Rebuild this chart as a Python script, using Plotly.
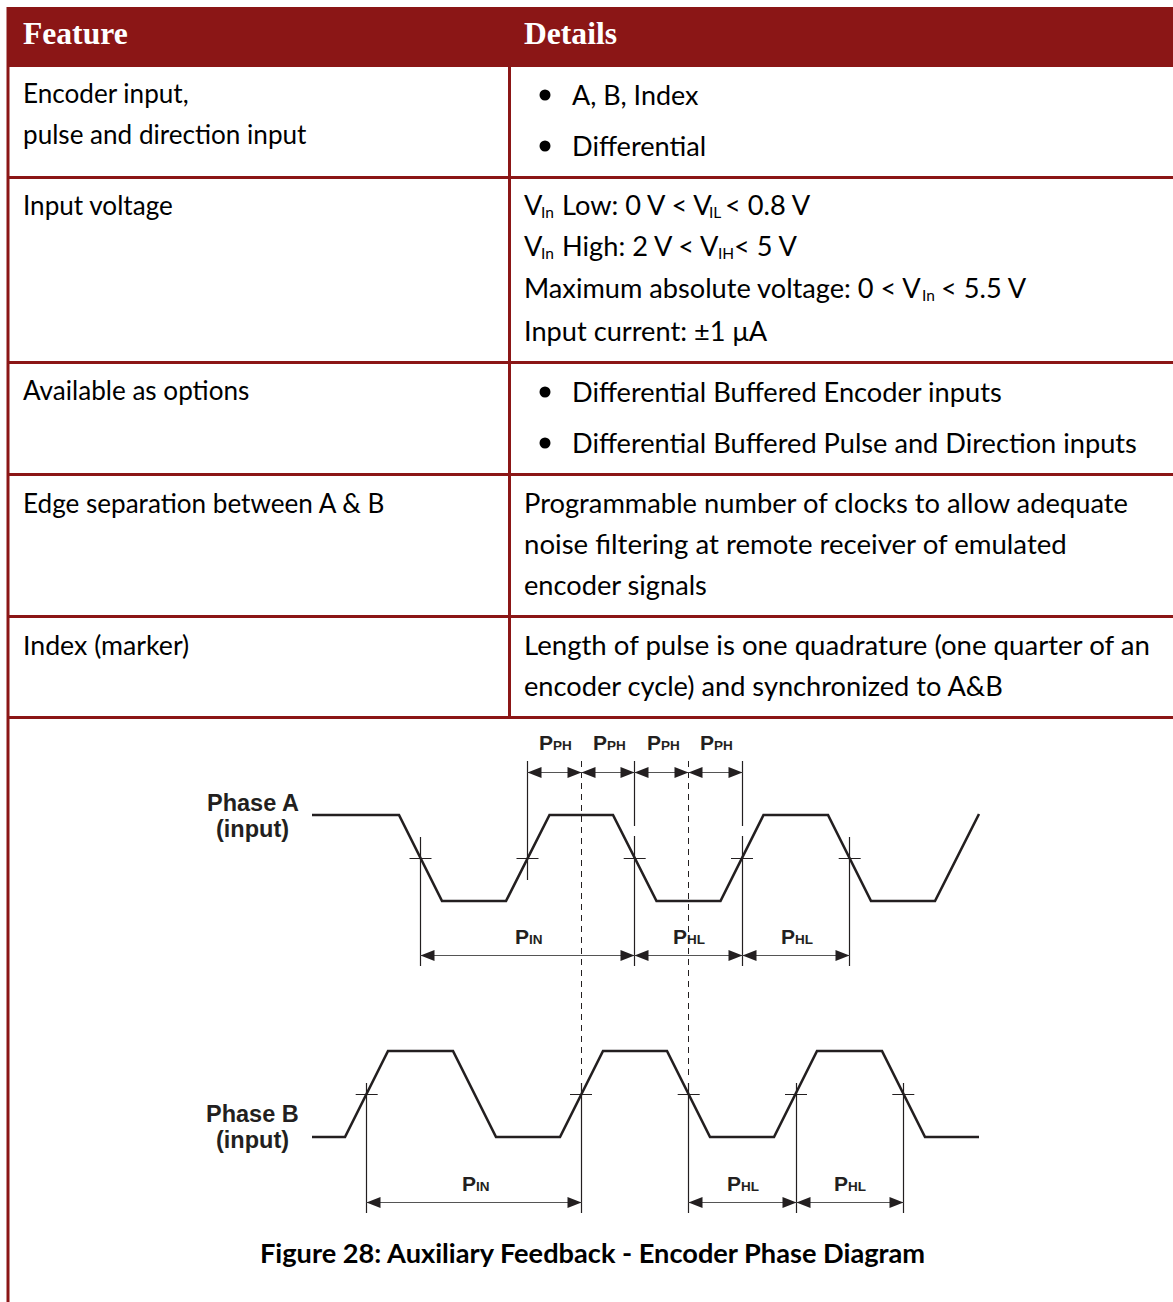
import plotly.graph_objects as go

# ---------- table content ----------
BRAND = "#8B1616"
INK = "#231F20"
header_labels = ["Feature", "Details"]
header_x = [23, 524]
rule_rows = [177.5, 362.5, 474.5, 616.5, 717.5]
table_left, table_right, table_top, header_bottom, page_bottom, column_split = 8, 1173, 7, 67, 1302, 509.5

feature_text = ["Encoder input,", "pulse and direction input", "Input voltage",
                "Available as options", "Edge separation between A &amp; B", "Index (marker)"]
feature_y = [92.5, 133.5, 204.5, 389.5, 502.5, 644.5]
feature_size = [26.1, 26.1, 26.1, 26.1, 26.1, 26.7]
feature_x = 23

detail_text = [
    "A, B, Index", "Differential",
    "Input current: ±1 μA",
    "Differential Buffered Encoder inputs", "Differential Buffered Pulse and Direction inputs",
    "Programmable number of clocks to allow adequate",
    "noise filtering at remote receiver of emulated",
    "encoder signals",
    "Length of pulse is one quadrature (one quarter of an",
    "encoder cycle) and synchronized to A&amp;B",
]
detail_x = [572, 572, 524, 572, 572, 524, 524, 524, 524, 524]
detail_y = [94.5, 145.5, 330.5, 391.5, 442.5, 502.5, 543.5, 584.5, 644.5, 685.5]
detail_size = [26.9, 27.2, 27.2, 27.2, 27.2, 27.3, 27.6, 27.2, 27.6, 27.2]
bullet_x = [545, 545, 545, 545]
bullet_y = [95, 146, 392, 443]

# voltage lines, split at each subscript
voltage_text = ["V", "Low: 0 V &lt; V", "&lt; 0.8 V",
                "V", "High: 2 V &lt; V", "&lt; 5 V",
                "Maximum absolute voltage: 0 &lt; V", "&lt; 5.5 V"]
voltage_x = [524, 562, 725, 524, 562, 734, 524, 941]
voltage_y = [204.5, 204.5, 204.5, 245.5, 245.5, 245.5, 287.5, 287.5]
voltage_sub = ["In", "IL", "In", "IH", "In"]
voltage_sub_x = [540.5, 708.5, 540.5, 718, 922]
voltage_sub_y = [212, 212, 253, 253, 295]

# ---------- timing diagram ----------
phase_a_x = [312, 399, 442, 506, 549.5, 613, 656.5, 720.5, 763.5, 828, 871, 935, 979]
phase_a_y = [815, 815, 901, 901, 815, 815, 901, 901, 815, 815, 901, 901, 814]
phase_b_x = [312, 345, 388, 453, 496, 560, 603, 667, 710, 774, 817, 882, 925, 979]
phase_b_y = [1137, 1137, 1051, 1051, 1137, 1137, 1051, 1051, 1137, 1137, 1051, 1051, 1137, 1137]

cross_a_x = [420.5, 527.5, 634.7, 742, 849.7]
cross_a_y = 858.5
cross_b_x = [366.7, 581, 688.7, 796, 903.3]
cross_b_y = 1094.5
cross_half = 11

guide_x = [420.5, 527.5, 634.5, 634.5, 742.5, 742.5, 849.5, 366.5, 581.5, 688.5, 796.5, 903.5]
guide_y0 = [837, 761, 761, 836, 761, 836, 837, 1083, 1083, 1083, 1083, 1083]
guide_y1 = [966, 880, 826, 966, 826, 966, 966, 1213, 1213, 1213, 1213, 1213]

dash_x = [581.5, 688.5]
dash_y0 = 761
dash_y1 = 1075

dim_from = [527.5, 581.5, 634.5, 688.5, 420.5, 634.5, 742.5, 366.5, 688.5, 796.5]
dim_to = [581.5, 634.5, 688.5, 742.5, 634.5, 742.5, 849.5, 581.5, 796.5, 903.5]
dim_y = [772.5, 772.5, 772.5, 772.5, 955.5, 955.5, 955.5, 1202.5, 1202.5, 1202.5]
arrow_len, arrow_half = 14, 5.5

dim_main = ["P"] * 10
dim_sub = ["PH", "PH", "PH", "PH", "IN", "HL", "HL", "IN", "HL", "HL"]
dim_label_x = [539, 593, 646.5, 700, 515, 673, 780.5, 461.5, 727, 834]
dim_label_y = [742, 742, 742, 742, 936, 936, 936, 1183, 1183, 1183]

phase_labels = ["Phase A", "(input)", "Phase B", "(input)"]
phase_label_x = [252.5, 252.5, 252.5, 252.5]
phase_label_y = [803, 829, 1114, 1140]

caption = "Figure 28: Auxiliary Feedback - Encoder Phase Diagram"
caption_x, caption_y = 592.5, 1252.5

BODY_FONT = "Lato"
DETAIL_SIZE = 27.2
SUB_SIZE = 15.5
DIAGRAM_FONT = "Liberation Sans"


def segs(x0s, y0s, x1s, y1s):
    xs, ys = [], []
    for a, b, c, d in zip(x0s, y0s, x1s, y1s):
        xs += [a, c, None]
        ys += [b, d, None]
    return xs, ys


def line(xs, ys, color, width, dash="solid"):
    return go.Scatter(x=xs, y=ys, mode="lines", line=dict(color=color, width=width, dash=dash),
                      hoverinfo="skip", showlegend=False)


fig = go.Figure()

# header band
fig.add_trace(go.Scatter(x=[table_left, table_right, table_right, table_left, table_left],
                         y=[table_top, table_top, header_bottom, header_bottom, table_top],
                         mode="lines", fill="toself", fillcolor=BRAND, line=dict(width=0),
                         hoverinfo="skip", showlegend=False))
# table rules
n = len(rule_rows)
xs, ys = segs([table_left] * n, rule_rows, [table_right] * n, rule_rows)
fig.add_trace(line(xs, ys, BRAND, 3))
xs, ys = segs([column_split, table_left], [header_bottom, table_top], [column_split, table_left], [rule_rows[-1], page_bottom])
fig.add_trace(line(xs, ys, BRAND, 3))
# bullets
fig.add_trace(go.Scatter(x=bullet_x, y=bullet_y, mode="markers", marker=dict(color="black", size=11),
                         hoverinfo="skip", showlegend=False))

# waveforms
fig.add_trace(line(phase_a_x, phase_a_y, INK, 2.6))
fig.add_trace(line(phase_b_x, phase_b_y, INK, 2.6))
# crossing ticks
na, nb = len(cross_a_x), len(cross_b_x)
xs, ys = segs([v - cross_half for v in cross_a_x] + [v - cross_half for v in cross_b_x],
              [cross_a_y] * na + [cross_b_y] * nb,
              [v + cross_half for v in cross_a_x] + [v + cross_half for v in cross_b_x],
              [cross_a_y] * na + [cross_b_y] * nb)
fig.add_trace(line(xs, ys, INK, 1))
# guides
xs, ys = segs(guide_x, guide_y0, guide_x, guide_y1)
fig.add_trace(line(xs, ys, INK, 1.2))
xs, ys = segs(dash_x, [dash_y0] * 2, dash_x, [dash_y1] * 2)
fig.add_trace(line(xs, ys, INK, 1, "6px,5px"))
# dimension lines
xs, ys = segs(dim_from, dim_y, dim_to, dim_y)
fig.add_trace(line(xs, ys, "#555555", 1))
# arrow heads
ax, ay = [], []
for a, b, y in zip(dim_from, dim_to, dim_y):
    ax += [a, a + arrow_len, a + arrow_len, a, None, b, b - arrow_len, b - arrow_len, b, None]
    ay += [y, y - arrow_half, y + arrow_half, y, None, y, y - arrow_half, y + arrow_half, y, None]
fig.add_trace(go.Scatter(x=ax, y=ay, mode="lines", fill="toself", fillcolor=INK, line=dict(width=0),
                         hoverinfo="skip", showlegend=False))


def note(text, x, y, size=DETAIL_SIZE, family=BODY_FONT, color="black", anchor="left"):
    fig.add_annotation(text=text, x=x, y=y, xref="x", yref="y", showarrow=False, xanchor=anchor,
                       yanchor="middle", align=anchor, font=dict(family=family, size=size, color=color),
                       borderpad=0, borderwidth=0)


for t, x in zip(header_labels, header_x):
    note(f"<b>{t}</b>", x, 33.5, size=31.6, family="Liberation Serif", color="white")
for t, y, s in zip(feature_text, feature_y, feature_size):
    note(t, feature_x, y, size=s)
for t, x, y, s in zip(detail_text, detail_x, detail_y, detail_size):
    note(t, x, y, size=s)
for t, x, y in zip(voltage_text, voltage_x, voltage_y):
    note(t, x, y)
for t, x, y in zip(voltage_sub, voltage_sub_x, voltage_sub_y):
    note(t, x, y, size=SUB_SIZE)
for m, s, x, y in zip(dim_main, dim_sub, dim_label_x, dim_label_y):
    note(f"<b>{m}</b>", x, y, size=21, family=DIAGRAM_FONT, color=INK)
    note(f"<b>{s}</b>", x + 14, y + 3, size=13.5, family=DIAGRAM_FONT, color=INK)
for t, x, y in zip(phase_labels, phase_label_x, phase_label_y):
    note(f"<b>{t}</b>", x, y, size=23.5, family=DIAGRAM_FONT, color=INK, anchor="center")
note(f"<b>{caption}</b>", caption_x, caption_y, size=27.2, anchor="center")

fig.update_layout(width=1173, height=1302, margin=dict(l=0, r=0, t=0, b=0),
                  paper_bgcolor="white", plot_bgcolor="white", showlegend=False,
                  xaxis=dict(range=[0, 1173], visible=False, fixedrange=True),
                  yaxis=dict(range=[1302, 0], visible=False, fixedrange=True))

fig.write_html("out.html", config={"displayModeBar": False},
               post_script="document.body.style.margin='0';document.body.style.overflow='hidden';")
